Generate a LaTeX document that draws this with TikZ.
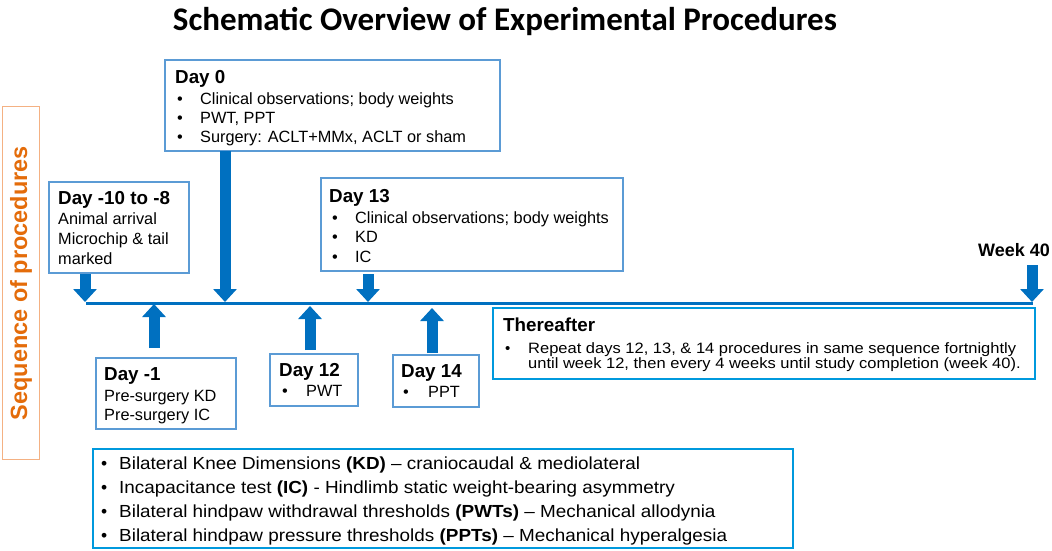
\documentclass[tikz,border=0pt]{standalone}
\usepackage{fontspec}
\setmainfont{Liberation Sans}
\newfontfamily\titlefont{Carlito}
\usetikzlibrary{arrows.meta}
\definecolor{boxblue}{RGB}{91,155,213}
\definecolor{cyanblue}{RGB}{0,153,221}
\definecolor{arrblue}{RGB}{0,112,192}
\definecolor{seqorange}{RGB}{228,108,10}
\definecolor{seqborder}{RGB}{244,177,131}
\newcommand{\wideA}[1]{\scalebox{1.1}[1]{#1}}
\newcommand{\wideB}[1]{\scalebox{1.08}[1]{#1}}
\begin{document}
\begin{tikzpicture}[x=1pt,y=-1pt,
  box/.style={draw=boxblue, line width=1.3pt, anchor=north west, inner sep=0pt, outer sep=0pt},
  cbox/.style={draw=cyanblue, line width=1.8pt, anchor=north west, inner sep=0pt, outer sep=0pt},
  txt/.style={anchor=base west, inner sep=0pt, font=\fontsize{16.3}{19}\selectfont},
  stxt/.style={anchor=base west, inner sep=0pt, font=\fontsize{15}{16}\selectfont},
  ltxt/.style={anchor=base west, inner sep=0pt, font=\fontsize{17.5}{20}\selectfont},
  hdr/.style={anchor=base west, inner sep=0pt, font=\fontsize{18.8}{21}\selectfont\bfseries},
  blockarrow/.style={line width=11pt, draw=arrblue, -{Triangle[length=13pt,width=23pt]}},
]
\useasboundingbox (0,0) rectangle (1052,551);

% title
\node[anchor=base, inner sep=0pt, font=\titlefont\bfseries\fontsize{33}{35}\selectfont] (title) at (505,31) {Schematic Overview of Experimental Procedures};

% sequence label
\node[draw=seqborder, line width=1.3pt, anchor=north west, minimum width=37pt, minimum height=353pt, inner sep=0pt] (seq) at (2,106) {};
\node[rotate=90, inner sep=0pt, text=seqorange, font=\bfseries\fontsize{23.5}{26}\selectfont] (seqtxt) at (seq.center) {Sequence of procedures};

% boxes
\node[box, minimum width=140pt, minimum height=91pt] (d10) at (49,182) {};
\node[box, minimum width=335pt, minimum height=91pt] (d0) at (165,60) {};
\node[box, minimum width=302pt, minimum height=93pt] (d13) at (321,178) {};
\node[box, minimum width=140pt, minimum height=71pt] (dm1) at (96,358) {};
\node[box, minimum width=88pt, minimum height=52pt] (d12) at (270,354) {};
\node[box, minimum width=86pt, minimum height=52pt] (d14) at (393,355) {};
\node[cbox, minimum width=542pt, minimum height=71pt] (there) at (493,308) {};
\node[cbox, minimum width=700pt, minimum height=99pt] (legend) at (93,449) {};

% Day -10 to -8
\node[hdr] (d10h) at (58,204) {Day -10 to -8};
\node[txt] (d10a) at (58,224) {Animal arrival};
\node[txt] (d10b) at (58,244) {Microchip \& tail};
\node[txt] (d10c) at (58,264) {marked};

% Day 0
\node[hdr] (d0h) at (175,83) {Day 0};
\node[txt] (d0b1) at (177,104) {•};
\node[txt] (d0a) at (200,104) {Clinical observations; body weights};
\node[txt] (d0b2) at (177,123) {•};
\node[txt] (d0b) at (200,123) {PWT, PPT};
\node[txt] (d0b3) at (177,142) {•};
\node[txt] (d0c) at (200,142) {Surgery: ACLT+MMx, ACLT or sham};

% Day 13
\node[hdr] (d13h) at (329,202) {Day 13};
\node[txt] (d13b1) at (332,223) {•};
\node[txt] (d13a) at (355,223) {Clinical observations; body weights};
\node[txt] (d13b2) at (332,242) {•};
\node[txt] (d13b) at (355,242) {KD};
\node[txt] (d13b3) at (332,262) {•};
\node[txt] (d13c) at (355,262) {IC};

% Day -1
\node[hdr] (dm1h) at (104,380) {Day -1};
\node[txt] (dm1a) at (104,401) {Pre-surgery KD};
\node[txt] (dm1b) at (104,420) {Pre-surgery IC};

% Day 12
\node[hdr] (d12h) at (279,376) {Day 12};
\node[txt] (d12b1) at (282,396) {•};
\node[txt] (d12a) at (306,396) {PWT};

% Day 14
\node[hdr] (d14h) at (401,377) {Day 14};
\node[txt] (d14b1) at (403,397) {•};
\node[txt] (d14a) at (428,397) {PPT};

% Thereafter
\node[hdr] (thh) at (503,331) {Thereafter};
\node[stxt] (thb1) at (505,353) {•};
\node[stxt] (tha) at (528,353) {\wideA{Repeat days 12, 13, \& 14 procedures in same sequence fortnightly}};
\node[stxt] (thb) at (528,368) {\wideA{until week 12, then every 4 weeks until study completion (week 40).}};

% Week 40
\node[anchor=base east, inner sep=0pt, font=\fontsize{18}{20}\selectfont\bfseries] (wk) at (1050,256) {Week 40};

% legend
\node[ltxt] (lb1) at (101,469) {•};
\node[ltxt] (l1) at (119,469) {\wideB{Bilateral Knee Dimensions \textbf{(KD)} – craniocaudal \& mediolateral}};
\node[ltxt] (lb2) at (101,493) {•};
\node[ltxt] (l2) at (119,493) {\wideB{Incapacitance test \textbf{(IC)} - Hindlimb static weight-bearing asymmetry}};
\node[ltxt] (lb3) at (101,517) {•};
\node[ltxt] (l3) at (119,517) {\wideB{Bilateral hindpaw withdrawal thresholds \textbf{(PWTs)} – Mechanical allodynia}};
\node[ltxt] (lb4) at (101,541) {•};
\node[ltxt] (l4) at (119,541) {\wideB{Bilateral hindpaw pressure thresholds \textbf{(PPTs)} – Mechanical hyperalgesia}};

% timeline
\coordinate (tl0) at (86,303);
\coordinate (tl1) at (1033,303);
\draw[arrblue, line width=3pt] (tl0) -- (tl1);

% arrow end points on the timeline
\coordinate (t1) at (85,302);
\coordinate (t2) at (225,302);
\coordinate (t3) at (368,302);
\coordinate (t4) at (1032,302);
\coordinate (u1) at (154,304);
\coordinate (u2) at (310,306);
\coordinate (u3) at (432,308);

\draw[blockarrow, shorten <=1pt] (d10.south -| t1) -- (t1);
\draw[blockarrow] (d0.south -| t2) -- (t2);
\draw[blockarrow, shorten <=3pt] (d13.south -| t3) -- (t3);
\draw[blockarrow, shorten <=9pt] (wk.south -| t4) -- (t4);
\draw[blockarrow, shorten <=10pt] (dm1.north -| u1) -- (u1);
\draw[blockarrow, shorten <=4pt] (d12.north -| u2) -- (u2);
\draw[blockarrow, shorten <=2pt] (d14.north -| u3) -- (u3);
\end{tikzpicture}
\end{document}
